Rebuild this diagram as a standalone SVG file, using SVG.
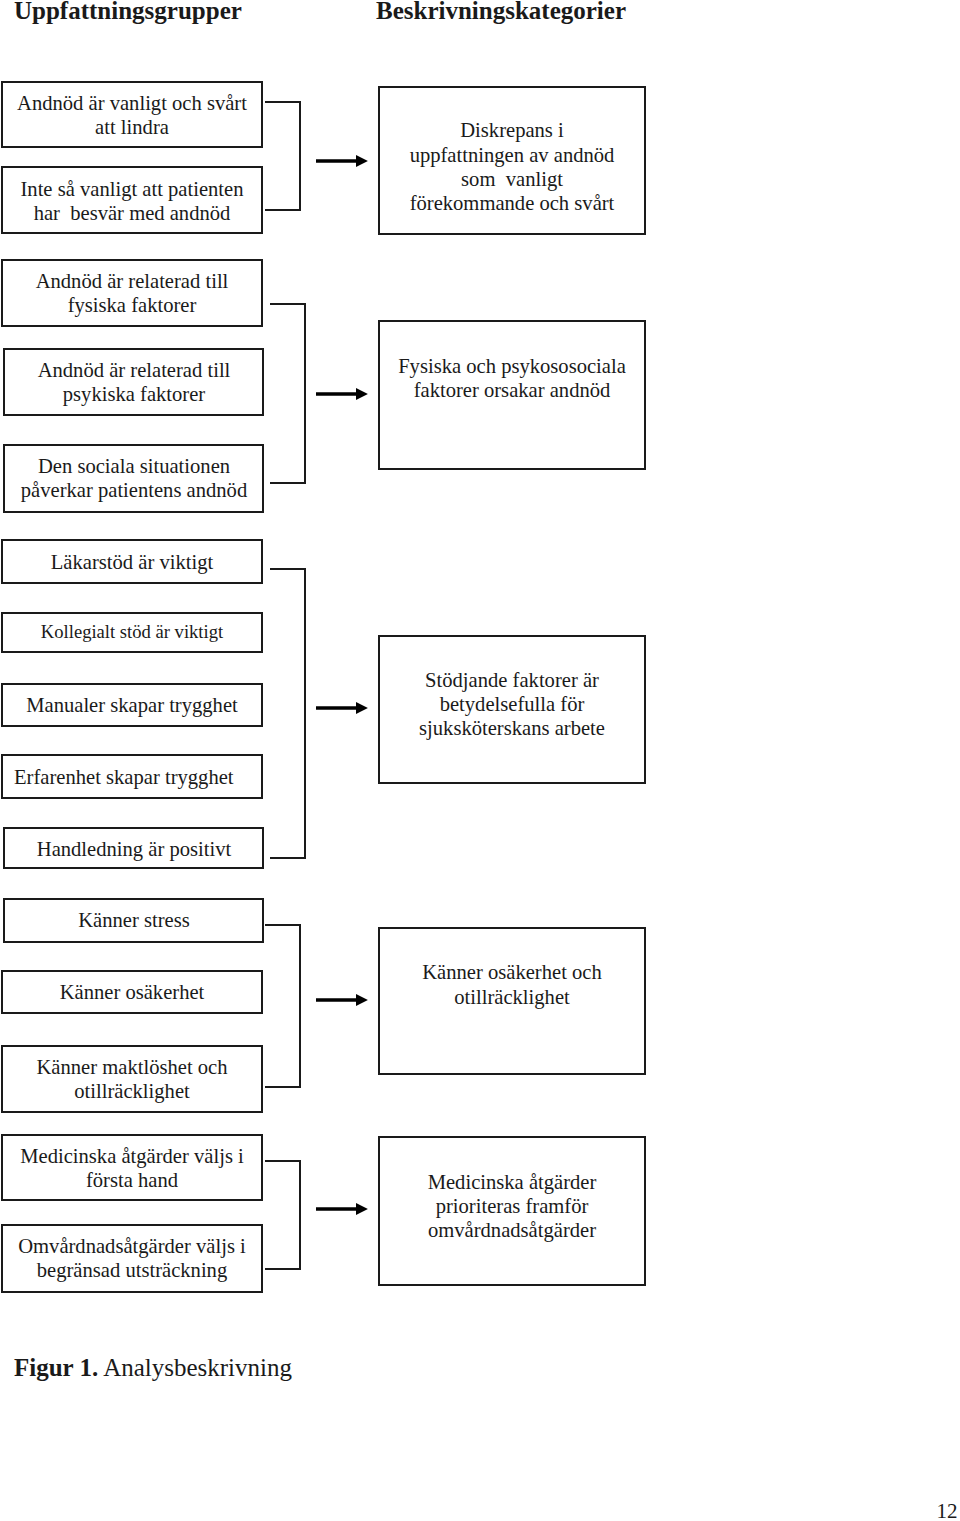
<svg xmlns="http://www.w3.org/2000/svg" width="960" height="1521" viewBox="0 0 960 1521">
<defs>
<style>
.box{fill:#fff;stroke:#1a1a1a;stroke-width:2}
.t{font-family:"Liberation Serif","Times New Roman",serif;font-size:20.6px;fill:#1a1a1a;text-anchor:middle;white-space:pre}
.h{font-family:"Liberation Serif","Times New Roman",serif;font-size:25px;font-weight:bold;fill:#1a1a1a}
.br{fill:none;stroke:#1a1a1a;stroke-width:2}
.ar{stroke:#000;stroke-width:3.5;fill:none}
</style>
<marker id="ah" viewBox="0 0 10 10" refX="0" refY="5" markerWidth="3.4" markerHeight="3.4" markerUnits="strokeWidth" orient="auto">
<path d="M0,0 L10,5 L0,10 Z" fill="#000"/>
</marker>
</defs>
<rect width="960" height="1521" fill="#fff"/>
<g id="headers">
<text class="h" x="14" y="19">Uppfattningsgrupper</text>
<text class="h" x="376" y="19">Beskrivningskategorier</text>
</g>
<g id="n1a"><rect class="box" x="2" y="82" width="260" height="65"/><text class="t" x="132" y="110">Andnöd är vanligt och svårt</text><text class="t" x="132" y="134">att lindra</text></g>
<g id="n1b"><rect class="box" x="2" y="167" width="260" height="66"/><text class="t" x="132" y="196" xml:space="preserve">Inte så vanligt att patienten</text><text class="t" x="132" y="220" xml:space="preserve">har  besvär med andnöd</text></g>
<g id="c1"><rect class="box" x="379" y="87" width="266" height="147"/><text class="t" x="512" y="137">Diskrepans i</text><text class="t" x="512" y="162">uppfattningen av andnöd</text><text class="t" x="512" y="186" xml:space="preserve">som  vanligt</text><text class="t" x="512" y="210">förekommande och svårt</text></g>
<g id="n2a"><rect class="box" x="2" y="260" width="260" height="66"/><text class="t" x="132" y="288">Andnöd är relaterad till</text><text class="t" x="132" y="312">fysiska faktorer</text></g>
<g id="n2b"><rect class="box" x="4" y="349" width="259" height="66"/><text class="t" x="134" y="377">Andnöd är relaterad till</text><text class="t" x="134" y="401">psykiska faktorer</text></g>
<g id="n2c"><rect class="box" x="4" y="445" width="259" height="67"/><text class="t" x="134" y="473">Den sociala situationen</text><text class="t" x="134" y="497">påverkar patientens andnöd</text></g>
<g id="c2"><rect class="box" x="379" y="321" width="266" height="148"/><text class="t" x="512" y="373">Fysiska och psykososociala</text><text class="t" x="512" y="397">faktorer orsakar andnöd</text></g>
<g id="n3a"><rect class="box" x="2" y="540" width="260" height="43"/><text class="t" x="132" y="569">Läkarstöd är viktigt</text></g>
<g id="n3b"><rect class="box" x="2" y="613" width="260" height="39"/><text class="t" x="132" y="638" style="font-size:18.6px">Kollegialt stöd är viktigt</text></g>
<g id="n3c"><rect class="box" x="2" y="684" width="260" height="42"/><text class="t" x="132" y="712">Manualer skapar trygghet</text></g>
<g id="n3d"><rect class="box" x="2" y="755" width="260" height="43"/><text class="t" x="14" y="784" style="text-anchor:start">Erfarenhet skapar trygghet</text></g>
<g id="n3e"><rect class="box" x="4" y="828" width="259" height="40"/><text class="t" x="134" y="856">Handledning är positivt</text></g>
<g id="c3"><rect class="box" x="379" y="636" width="266" height="147"/><text class="t" x="512" y="687">Stödjande faktorer är</text><text class="t" x="512" y="711">betydelsefulla för</text><text class="t" x="512" y="735">sjuksköterskans arbete</text></g>
<g id="n4a"><rect class="box" x="4" y="899" width="259" height="43"/><text class="t" x="134" y="927">Känner stress</text></g>
<g id="n4b"><rect class="box" x="2" y="971" width="260" height="42"/><text class="t" x="132" y="999">Känner osäkerhet</text></g>
<g id="n4c"><rect class="box" x="2" y="1046" width="260" height="66"/><text class="t" x="132" y="1074">Känner maktlöshet och</text><text class="t" x="132" y="1098">otillräcklighet</text></g>
<g id="c4"><rect class="box" x="379" y="928" width="266" height="146"/><text class="t" x="512" y="979">Känner osäkerhet och</text><text class="t" x="512" y="1004">otillräcklighet</text></g>
<g id="n5a"><rect class="box" x="2" y="1135" width="260" height="65"/><text class="t" x="132" y="1163">Medicinska åtgärder väljs i</text><text class="t" x="132" y="1187">första hand</text></g>
<g id="n5b"><rect class="box" x="2" y="1225" width="260" height="67"/><text class="t" x="132" y="1253">Omvårdnadsåtgärder väljs i</text><text class="t" x="132" y="1277">begränsad utsträckning</text></g>
<g id="c5"><rect class="box" x="379" y="1137" width="266" height="148"/><text class="t" x="512" y="1189">Medicinska åtgärder</text><text class="t" x="512" y="1213">prioriteras framför</text><text class="t" x="512" y="1237">omvårdnadsåtgärder</text></g>
<g id="connectors">
<polyline class="br" points="265,102 300,102 300,210 265,210"/>
<line class="ar" x1="316" y1="161" x2="356" y2="161" marker-end="url(#ah)"/>
<polyline class="br" points="270,304 305,304 305,483 270,483"/>
<line class="ar" x1="316" y1="394" x2="356" y2="394" marker-end="url(#ah)"/>
<polyline class="br" points="270,569 305,569 305,858 270,858"/>
<line class="ar" x1="316" y1="708" x2="356" y2="708" marker-end="url(#ah)"/>
<polyline class="br" points="265,925 300,925 300,1087 265,1087"/>
<line class="ar" x1="316" y1="1000" x2="356" y2="1000" marker-end="url(#ah)"/>
<polyline class="br" points="265,1161 300,1161 300,1269 265,1269"/>
<line class="ar" x1="316" y1="1209" x2="356" y2="1209" marker-end="url(#ah)"/>
</g>
<g id="caption">
<text class="h" x="14" y="1376" style="font-weight:normal"><tspan font-weight="bold">Figur 1.</tspan> Analysbeskrivning</text>
<text class="t" x="947" y="1518" style="font-size:21px">12</text>
</g>
</svg>
